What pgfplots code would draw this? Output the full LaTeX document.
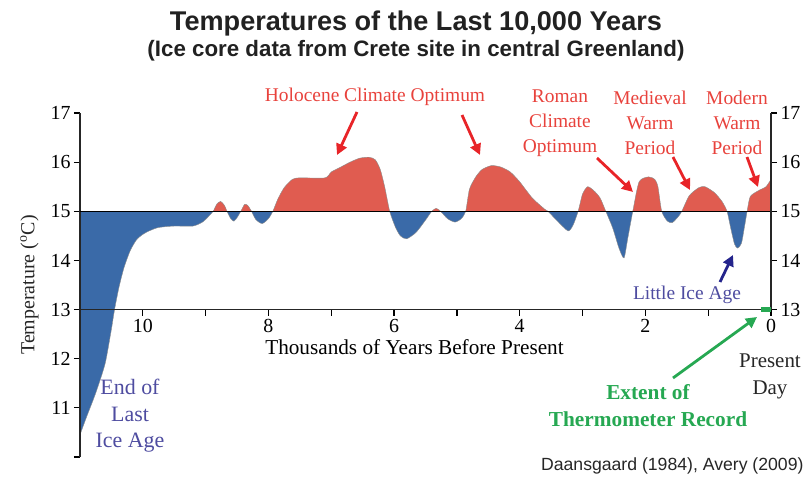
\documentclass[border=0pt]{standalone}
\usepackage{fontspec}
\setmainfont{Liberation Serif}
\newfontfamily\arialfont{Liberation Sans}
\usepackage{pgfplots}
\usepackage{pgfplotstable}
\pgfplotsset{compat=1.18}
\usetikzlibrary{arrows.meta}

\definecolor{warmfill}{RGB}{224,92,80}
\definecolor{coldfill}{RGB}{58,106,168}
\definecolor{annred}{RGB}{232,66,60}
\definecolor{arrred}{RGB}{232,36,40}
\definecolor{annblue}{RGB}{78,76,160}
\definecolor{arrblue}{RGB}{36,36,140}
\definecolor{anngreen}{RGB}{38,168,82}

\newcommand\annfont{\fontsize{19.5}{25}\selectfont}

% thousands of years before present, temperature (C)
\pgfplotstableread{
kyr   temp
11.0  10.45
10.9  10.8
10.75 11.3
10.6  11.9
10.5  12.6
10.45 13.0
10.38 13.45
10.3  13.85
10.2  14.2
10.1  14.42
10.0  14.53
9.9   14.6
9.75  14.67
9.5   14.7
9.2   14.7
9.05  14.78
8.95  14.9
8.88  15.0
8.82  15.15
8.76  15.2
8.7   15.12
8.66  15.0
8.6   14.85
8.55  14.8
8.5   14.87
8.44  15.0
8.38  15.14
8.33  15.12
8.27  15.0
8.2   14.83
8.1   14.75
8.0   14.85
7.93  15.0
7.85  15.25
7.75  15.48
7.62  15.65
7.5   15.68
7.1   15.68
7.0   15.8
6.85  15.9
6.7   16.0
6.55  16.08
6.4   16.1
6.3   16.05
6.22  15.85
6.15  15.5
6.07  15.0
5.98  14.68
5.9   14.5
5.8   14.44
5.65  14.57
5.5   14.82
5.4   15.0
5.33  15.06
5.26  15.0
5.15  14.85
5.03  14.78
4.93  14.85
4.86  15.0
4.8   15.45
4.7   15.7
4.6   15.85
4.45  15.93
4.3   15.9
4.15  15.8
4.0   15.6
3.8   15.27
3.6   15.04
3.55  15.0
3.4   14.8
3.23  14.6
3.15  14.72
3.07  15.0
3.0   15.35
2.92  15.5
2.82  15.42
2.72  15.27
2.63  15.0
2.52  14.66
2.42  14.25
2.34  14.05
2.28  14.45
2.2   15.0
2.1   15.6
1.95  15.7
1.85  15.65
1.8   15.5
1.74  15.0
1.65  14.8
1.57  14.77
1.47  14.9
1.42  15.0
1.3   15.32
1.15  15.48
1.05  15.5
0.9   15.38
0.78  15.2
0.7   15.0
0.64  14.65
0.58  14.33
0.53  14.25
0.47  14.35
0.42  14.7
0.38  15.0
0.33  15.3
0.2   15.42
0.08  15.5
0.0   15.65
}\tempdata

\pgfplotsset{
  frame/.style={scale only axis, width=691bp, anchor=north west,
    xmin=0, xmax=11, x dir=reverse},
  tickstyle/.style={tick align=outside, major tick length=6bp,
    tick style={black, line width=1.2bp},
    axis line style={black!85, line width=1.2bp},
    tick label style={font=\fontsize{20}{24}\selectfont},
    /pgf/number format/assume math mode=true},
}

\begin{document}
\begin{tikzpicture}
\path[use as bounding box] (0,0) rectangle (808bp,-477bp);

% warm part: everything above 15 C (clipped by the axis box)
\begin{axis}[frame, at={(80bp,-113bp)}, height=98.286bp,
    ymin=15, ymax=17, hide axis]
\addplot[fill=warmfill, draw=black!45, line width=0.4bp, smooth, tension=0.4]
    table[x=kyr, y=temp] {\tempdata}
    -- (axis cs:0,15) -- (axis cs:11,15) -- cycle;
\end{axis}

% cold part: everything below 15 C
\begin{axis}[frame, at={(80bp,-211.286bp)}, height=245.714bp,
    ymin=10, ymax=15, hide axis]
\addplot[fill=coldfill, draw=black!45, line width=0.4bp, smooth, tension=0.4]
    table[x=kyr, y=temp] {\tempdata}
    -- (axis cs:0,15) -- (axis cs:11,15) -- cycle;
\end{axis}

% left temperature scale and the 15 C reference line
\begin{axis}[frame, tickstyle, at={(80bp,-113bp)}, height=344bp,
    ymin=10, ymax=17,
    axis x line=none, axis y line*=left,
    ytick={10,...,17}, yticklabels={,11,12,13,14,15,16,17},
    ylabel={Temperature (\textsuperscript{o}C)},
    ylabel style={font=\fontsize{20}{24}\selectfont, color=black!85, yshift=5bp},
    clip=false]
\addplot[black, line width=1.2bp] coordinates {(11,15) (0,15)};
\end{axis}

% time axis at 13 C and right temperature scale
\begin{axis}[frame, tickstyle, at={(80bp,-113bp)}, height=196.571bp,
    ymin=13, ymax=17,
    axis x line*=bottom, axis y line*=right,
    xtick={0,...,10}, xticklabels={0,,2,,4,,6,,8,,10},
    ytick={13,...,17},
    xlabel={Thousands of Years Before Present},
    xlabel style={font=\fontsize{21.3}{25}\selectfont, xshift=-11bp},
    clip=false]
\addplot[anngreen, line width=4.5bp] coordinates {(0.16,13) (0,13)};
\end{axis}

\begin{scope}[x=1bp, y=-1bp]
\node[anchor=base, font=\arialfont\bfseries\fontsize{27.2}{31}\selectfont, text=black!87] at (416,30) {Temperatures of the Last 10,000 Years};
\node[anchor=base, font=\arialfont\bfseries\fontsize{22.4}{26}\selectfont, text=black!87] at (416,56) {(Ice core data from Crete site in central Greenland)};

\node[font=\annfont, text=annred] at (375,97) {Holocene Climate Optimum};
\node[font=\annfont, text=annred, align=center] at (560,123) {Roman\\Climate\\Optimum};
\node[font=\annfont, text=annred, align=center] at (650,123) {Medieval\\Warm\\Period};
\node[font=\annfont, text=annred, align=center] at (737,123) {Modern\\Warm\\Period};
\node[font=\annfont, text=annblue] at (687,295) {Little Ice Age};
\node[font=\fontsize{22}{26.5}\selectfont, text=annblue, align=center] at (130,416) {End of\\Last\\Ice Age};
\node[font=\fontsize{21}{27}\selectfont, text=black!85, align=center] at (770,376) {Present\\Day};
\node[font=\bfseries\fontsize{21.4}{27}\selectfont, text=anngreen, align=center] at (648,406) {Extent of\\Thermometer Record};
\node[font=\arialfont\fontsize{17.7}{20}\selectfont, text=black!85, anchor=east] at (807,466) {Daansgaard (1984), Avery (2009)};

\begin{scope}[line width=2.8bp, -{Triangle[length=11bp,width=11bp]}]
\draw[arrred] (357,112) -- (337,155);
\draw[arrred] (462,115) -- (480,155);
\draw[arrred] (597,158) -- (633,192);
\draw[arrred] (673,157) -- (690,190);
\draw[arrred] (747,157) -- (758,187);
\draw[arrblue] (720,282) -- (733,255);
\draw[anngreen] (673,378) -- (757,317);
\end{scope}
\end{scope}
\end{tikzpicture}
\end{document}
